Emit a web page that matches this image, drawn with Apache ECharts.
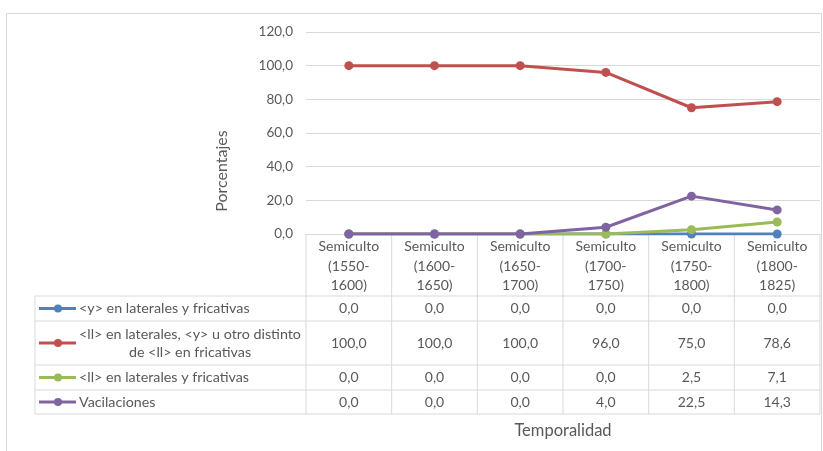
<!DOCTYPE html>
<html><head><meta charset="utf-8">
<script src="https://cdn.jsdelivr.net/npm/echarts@6/dist/echarts.min.js"></script>
<style>html,body{margin:0;padding:0;background:#fff}#c{width:823px;height:451px}</style>
</head><body><div id="c"></div>
<script>
const categories = ['Semiculto\n(1550-\n1600)','Semiculto\n(1600-\n1650)','Semiculto\n(1650-\n1700)','Semiculto\n(1700-\n1750)','Semiculto\n(1750-\n1800)','Semiculto\n(1800-\n1825)'];
const seriesNames = ['<y> en laterales y fricativas','<ll> en laterales, <y> u otro distinto\nde <ll> en fricativas','<ll> en laterales y fricativas','Vacilaciones'];
const yFric = [0.0, 0.0, 0.0, 0.0, 0.0, 0.0];
const llLat = [100.0, 100.0, 100.0, 96.0, 75.0, 78.6];
const llBoth = [0.0, 0.0, 0.0, 0.0, 2.5, 7.1];
const vacil = [0.0, 0.0, 0.0, 4.0, 22.5, 14.3];
const yTicks = [0, 20, 40, 60, 80, 100, 120];
const seriesData = [yFric, llLat, llBoth, vacil];
const colors = ['#4F81BD','#C0504D','#9BBB59','#8064A2'];

const FONT = 'Lato, "Open Sans", sans-serif';
const TXT = '#595959';
const LINE = '#d9d9d9';
const fmt = v => v.toFixed(1).replace('.', ',');

const chart = echarts.init(document.getElementById('c'), null, {renderer:'canvas'});
chart.setOption({
  animation:false,
  textStyle:{fontFamily:FONT},
  grid:{left:306, right:3, top:32, bottom:217},
  xAxis:{
    type:'category', data:categories, boundaryGap:true,
    axisLine:{lineStyle:{color:LINE, width:1}},
    axisTick:{show:false},
    splitLine:{show:false},
    axisLabel:{color:TXT, fontSize:14, fontFamily:FONT, lineHeight:19.5, margin:3, interval:0},
    name:'Temporalidad', nameLocation:'middle', nameGap:188,
    nameTextStyle:{color:TXT, fontSize:16.5, fontFamily:FONT}
  },
  yAxis:{
    type:'value', min:yTicks[0], max:yTicks[yTicks.length-1], interval:yTicks[1]-yTicks[0],
    axisLine:{show:false}, axisTick:{show:false},
    splitLine:{lineStyle:{color:LINE, width:1}},
    axisLabel:{color:TXT, fontSize:13.5, fontFamily:FONT, margin:13, formatter:v=>fmt(v)}
  },
  series: seriesData.map((d,i)=>({
    name:seriesNames[i], type:'line', data:d,
    symbol:'circle', symbolSize:9, showSymbol:true,
    lineStyle:{color:colors[i], width:3},
    itemStyle:{color:colors[i]},
    z:2+i
  }))
});

// Data table built from the arrays, aligned with the category axis
const xs = categories.map((c,i)=>chart.convertToPixel({xAxisIndex:0}, i));
const colW = xs[1]-xs[0];
const tLeft = 35, axisY = 234, hdrBottom = 296;
const rowBounds = [296, 321, 365, 390, 414];
const plotLeft = xs[0]-colW/2, plotRight = xs[xs.length-1]+colW/2;
const g = [];
rowBounds.forEach(y=>{
  g.push({type:'line', shape:{x1:tLeft, y1:y, x2:plotRight, y2:y}, style:{stroke:LINE, lineWidth:1}, silent:true});
});
g.push({type:'line', shape:{x1:tLeft, y1:hdrBottom, x2:tLeft, y2:rowBounds[rowBounds.length-1]}, style:{stroke:LINE, lineWidth:1}});
for(let k=0;k<=xs.length;k++){
  const x = plotLeft + k*colW;
  g.push({type:'line', shape:{x1:x, y1:axisY, x2:x, y2:rowBounds[rowBounds.length-1]}, style:{stroke:LINE, lineWidth:1}});
}
seriesData.forEach((d,i)=>{
  const y0 = rowBounds[i], y1 = rowBounds[i+1], cy = (y0+y1)/2;
  g.push({type:'line', shape:{x1:39, y1:cy, x2:76, y2:cy}, style:{stroke:colors[i], lineWidth:3}});
  g.push({type:'circle', shape:{cx:58, cy:cy, r:4}, style:{fill:colors[i]}});
  const multi = seriesNames[i].indexOf('\n') >= 0;
  g.push({type:'text', x:multi?190:79, y:cy, style:{text:seriesNames[i], fill:TXT, font:'14.3px '+FONT, align:multi?'center':'left', verticalAlign:'middle', lineHeight:18}});
  d.forEach((v,j)=>{
    g.push({type:'text', x:xs[j], y:cy, style:{text:fmt(v), fill:TXT, font:'14px '+FONT, align:'center', verticalAlign:'middle'}});
  });
});
// y-axis title
g.push({type:'text', x:222, y:171, rotation:Math.PI/2, style:{text:'Porcentajes', fill:TXT, font:'16px '+FONT, align:'center', verticalAlign:'middle'}});
// outer chart border
g.push({type:'rect', shape:{x:6.5, y:13.5, width:815, height:460}, style:{fill:null, stroke:LINE, lineWidth:1}, z:-1});
chart.setOption({graphic:g});
</script>
</body></html>
